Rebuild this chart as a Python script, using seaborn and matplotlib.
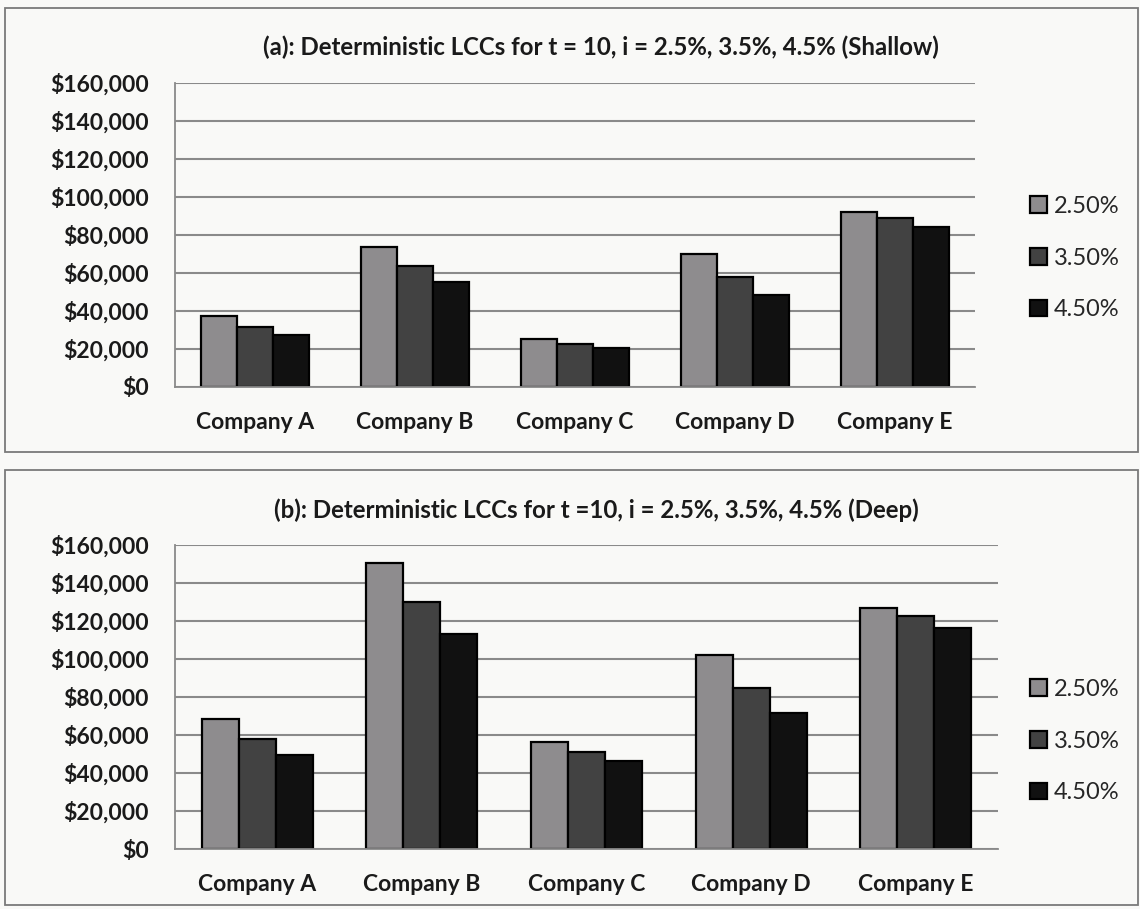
import matplotlib
matplotlib.use("Agg")
import matplotlib.pyplot as plt
from matplotlib.patches import Rectangle
from matplotlib.ticker import FuncFormatter
import seaborn as sns
import pandas as pd

companies = ["Company A", "Company B", "Company C", "Company D", "Company E"]
rates = ["2.50%", "3.50%", "4.50%"]

shallow_25 = [37500, 73800, 25000, 69800, 92100]
shallow_35 = [31800, 63700, 22600, 57700, 89100]
shallow_45 = [27500, 55400, 20600, 48600, 84400]

deep_25 = [68400, 150500, 56300, 102000, 126700]
deep_35 = [57900, 130000, 51000, 84900, 122600]
deep_45 = [49600, 113000, 46500, 71400, 116100]

title_a = "(a): Deterministic LCCs for t = 10, i = 2.5%, 3.5%, 4.5% (Shallow)"
title_b = "(b): Deterministic LCCs for t =10, i = 2.5%, 3.5%, 4.5% (Deep)"
yticks = [0, 20000, 40000, 60000, 80000, 100000, 120000, 140000, 160000]


def long_frame(s25, s35, s45):
    rows = []
    for rate, series in zip(rates, [s25, s35, s45]):
        for c, v in zip(companies, series):
            rows.append({"company": c, "rate": rate, "value": v})
    return pd.DataFrame(rows)


sns.set_theme(style="white")
plt.rcParams["font.family"] = ["Lato", "DejaVu Sans"]

W, H = 1140, 909
fig = plt.figure(figsize=(W / 100, H / 100), dpi=100)
bg = "#f9f9f7"
fig.patch.set_facecolor(bg)

palette = {"2.50%": "#8e8c8e", "3.50%": "#424242", "4.50%": "#111111"}


def px_axes(x0, y0, x1, y1):
    return fig.add_axes([x0 / W, 1 - y1 / H, (x1 - x0) / W, (y1 - y0) / H])


# panel borders
for (x0, y0, x1, y1) in [(5, 8, 1138, 452), (5, 470, 1138, 905)]:
    fig.patches.append(Rectangle((x0 / W, 1 - y1 / H), (x1 - x0) / W, (y1 - y0) / H,
                                 transform=fig.transFigure, fill=False,
                                 edgecolor="#7a7a7a", linewidth=1.3))

panels = [
    (long_frame(shallow_25, shallow_35, shallow_45), (175, 83, 975, 387), title_a, (601, 47), 197),
    (long_frame(deep_25, deep_35, deep_45), (175, 545, 998, 849), title_b, (596, 510), 680),
]

fmt = FuncFormatter(lambda v, p: "${:,.0f}".format(v))

for df, (x0, y0, x1, y1), title, (tx, ty), leg_top in panels:
    ax = px_axes(x0, y0, x1, y1)
    ax.set_facecolor(bg)
    sns.barplot(data=df, x="company", y="value", hue="rate", hue_order=rates,
                order=companies, palette=palette, width=0.675, edgecolor="black",
                linewidth=1.6, saturation=1, ax=ax, legend=True)
    ax.set_ylim(0, 160000)
    ax.set_xlim(-0.5, 4.5)
    ax.set_yticks(yticks)
    ax.yaxis.set_major_formatter(fmt)
    ax.grid(axis="y", color="#8a8a8a", linewidth=1.5)
    ax.set_axisbelow(True)
    for s in ["top", "right"]:
        ax.spines[s].set_visible(False)
    for s in ["left", "bottom"]:
        ax.spines[s].set_color("#8a8a8a")
        ax.spines[s].set_linewidth(1.3)
    ax.tick_params(axis="both", length=0)
    ax.tick_params(axis="y", pad=19)
    ax.tick_params(axis="x", pad=18)
    ax.set_xlabel("")
    ax.set_ylabel("")
    for lab in ax.get_yticklabels():
        lab.set_fontsize(16.5)
        lab.set_fontweight("bold")
        lab.set_color("#1a1a1a")
    for lab in ax.get_xticklabels():
        lab.set_fontsize(16.5)
        lab.set_fontweight("bold")
        lab.set_color("#1a1a1a")
    fig.text(tx / W, 1 - ty / H, title, ha="center", va="center",
             fontsize=17.3, fontweight="bold", color="#1a1a1a")
    handles, labels = ax.get_legend_handles_labels()
    ax.get_legend().remove()
    fig.legend(handles, labels, loc="upper left",
               bbox_to_anchor=(1030 / W, 1 - (leg_top - 1) / H),
               frameon=False, fontsize=17, labelspacing=1.3,
               handlelength=0.7, handleheight=0.7, handletextpad=0.3,
               borderaxespad=0, borderpad=0)

fig.savefig("out.png", dpi=100, facecolor=bg)
